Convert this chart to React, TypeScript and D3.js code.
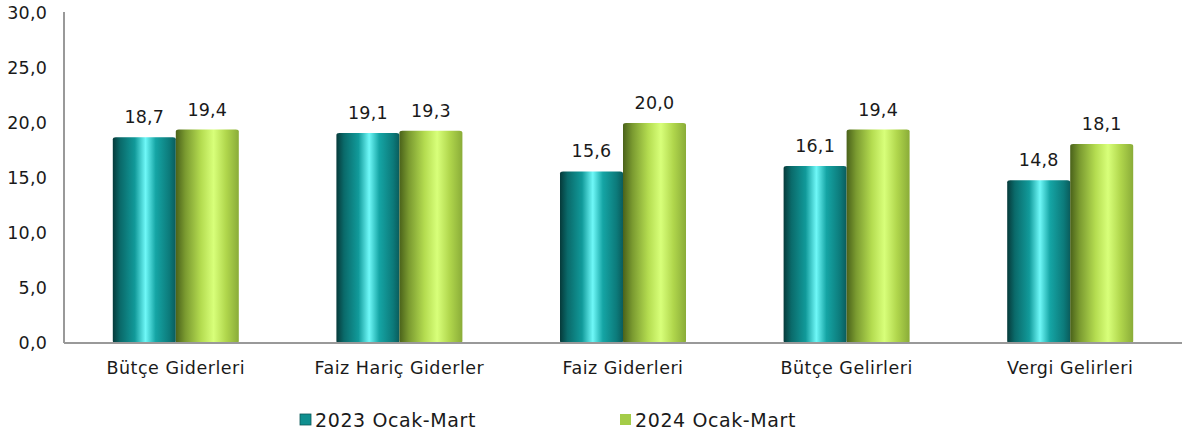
import React from "react";
import * as d3 from "d3";

const categories = ["Bütçe Giderleri", "Faiz Hariç Giderler", "Faiz Giderleri", "Bütçe Gelirleri", "Vergi Gelirleri"];
const series2023 = [18.7, 19.1, 15.6, 16.1, 14.8];
const series2024 = [19.4, 19.3, 20.0, 19.4, 18.1];
const seriesNames = ["2023 Ocak-Mart", "2024 Ocak-Mart"];
const yTicks = [0, 5, 10, 15, 20, 25, 30];

const W = 1188, H = 436;
const margin = { left: 64, right: 6, top: 13, bottom: 93 };
const FONT = "'DejaVu Sans', sans-serif";
const FS = 17.5;

export default function App() {
  const x = d3.scaleBand<string>().domain(categories).range([margin.left, W - margin.right]).paddingInner(0).paddingOuter(0);
  const y = d3.scaleLinear().domain([0, 30]).range([H - margin.bottom, margin.top]);
  const barW = 63;
  const fmt = (v: number) => v.toFixed(1).replace(".", ",");
  const data = [series2023, series2024];
  const grads = ["gTeal", "gGreen"];
  const textProps = { fontFamily: FONT, fontSize: FS, fill: "#1a1a1a" };
  return (
    <svg width={W} height={H} style={{ position: "absolute", left: 0, top: 0 }}>
      <defs>
        <linearGradient id="gTeal" x1="0" x2="1" y1="0" y2="0">
          <stop offset="0" stopColor="#063a3a" />
          <stop offset="0.12" stopColor="#0a6a6a" />
          <stop offset="0.35" stopColor="#119a9a" />
          <stop offset="0.52" stopColor="#6ff8f8" />
          <stop offset="0.68" stopColor="#15a5a5" />
          <stop offset="0.9" stopColor="#0c7a7a" />
          <stop offset="1" stopColor="#0a5c5c" />
        </linearGradient>
        <linearGradient id="gGreen" x1="0" x2="1" y1="0" y2="0">
          <stop offset="0" stopColor="#4a621a" />
          <stop offset="0.15" stopColor="#7a9a30" />
          <stop offset="0.4" stopColor="#b4dc50" />
          <stop offset="0.6" stopColor="#d8ff7a" />
          <stop offset="0.8" stopColor="#b0d64c" />
          <stop offset="1" stopColor="#8aac38" />
        </linearGradient>
      </defs>
      {yTicks.map((t) => (
        <text key={t} x={47} y={y(t)} dy="0.35em" textAnchor="end" {...textProps} letterSpacing={0.2}>
          {fmt(t)}
        </text>
      ))}
      {categories.map((c, i) => {
        const cx = (x(c) as number) + x.bandwidth() / 2;
        return (
          <g key={c}>
            {data.map((s, k) => {
              const bx = k === 0 ? cx - barW : cx;
              const top = y(s[i]);
              return (
                <g key={k}>
                  <rect x={bx} y={top} width={barW} height={y(0) - top} fill={`url(#${grads[k]})`} rx={3} ry={2} />
                  <text x={bx + barW / 2} y={top - 14} textAnchor="middle" {...textProps} letterSpacing={0.2}>
                    {fmt(s[i])}
                  </text>
                </g>
              );
            })}
            <text x={cx} y={y(0) + 31} textAnchor="middle" {...textProps} letterSpacing={0.5}>
              {c}
            </text>
          </g>
        );
      })}
      <line x1={margin.left} x2={margin.left} y1={margin.top - 1} y2={y(0)} stroke="#999" strokeWidth={2} />
      <line x1={margin.left} x2={W - margin.right} y1={y(0)} y2={y(0)} stroke="#999" strokeWidth={2} />
      {seriesNames.map((n, k) => {
        const lx = k === 0 ? 300 : 620;
        return (
          <g key={n}>
            <rect x={lx} y={414} width={11} height={11} fill={k === 0 ? "#0f8f8f" : "#a4cc48"} stroke={k === 0 ? "#0a5858" : "none"} strokeWidth={0.8} />
            <text x={lx + 15} y={427} {...textProps} fontSize={19} letterSpacing={0.6}>{n}</text>
          </g>
        );
      })}
    </svg>
  );
}
